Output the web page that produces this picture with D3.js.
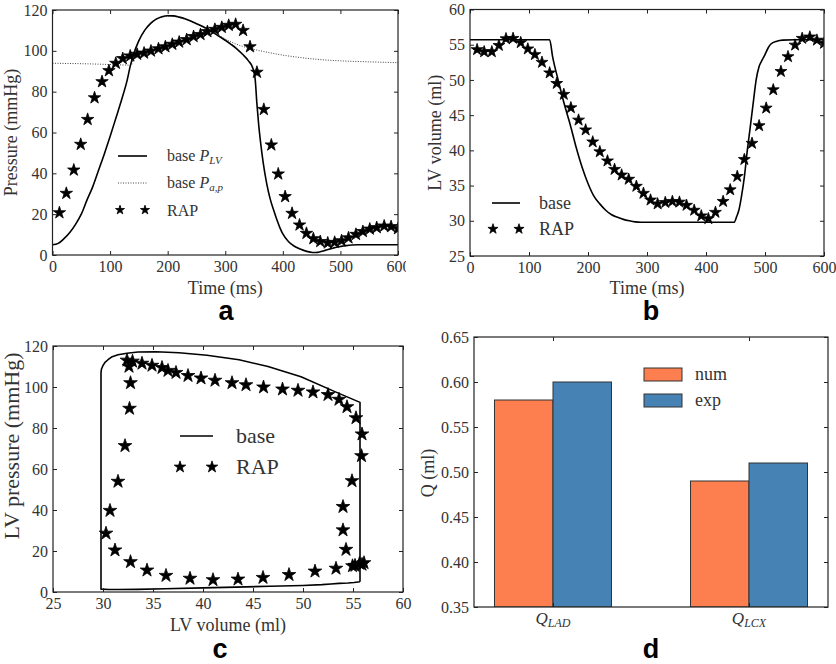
<!DOCTYPE html>
<html>
<head>
<meta charset="utf-8">
<script src="https://cdn.jsdelivr.net/npm/d3@7"></script>
<style>
  body { margin: 0; background: #fff; }
  svg { display: block; font-family: "Liberation Serif", serif; }
</style>
</head>
<body>
<svg width="836" height="664"></svg>
<script>
// base simulation, sampled on one time grid (ms)
const baseTime = [0,10,20,30,40,50,60,70,80,90,100,110,120,130,135,
  140,150,160,170,180,190,200,210,220,230,240,250,260,270,280,290,300,310,320,330,340,
  348,352,355,358,361,366,372,378,384,390,395,400,410,420,430,440,
  448,452,456,460,465,470,475,480,485,490,495,500,505,510,520,530,550,600];
const basePLV = [5,5.7,8,11,15,20,27,33.5,41.5,49.5,58,67,76,86,92.5,
  97.5,105,110,113.3,115.5,116.7,117.2,117.1,116.5,115.7,114.6,113.3,112,110.5,108.8,107,105.2,103.2,101,98.3,95.2,
  91.5,86,74,64,56,45,35,27.5,22,17,13.3,10.3,6.5,4.3,2.9,1.9,
  1.4,1.2,1.2,1.3,1.6,2.0,2.4,2.8,3.2,3.6,3.9,4.2,4.4,4.6,4.9,5,5,5];
const baseVolume = [55.7,55.7,55.7,55.7,55.7,55.7,55.7,55.7,55.7,55.7,55.7,55.7,55.7,55.7,55.7,
  53.3,49.8,46.5,43.6,40.4,37.6,35.3,33.5,32.4,31.5,30.85,30.5,30.2,30.0,29.85,29.8,29.8,29.8,29.8,29.8,29.8,
  29.8,29.8,29.8,29.8,29.8,29.8,29.8,29.8,29.8,29.8,29.8,29.8,29.8,29.8,29.8,29.8,
  29.8,30.6,31.6,33.4,36.2,40,43.3,46.7,50,51.9,52.8,53.6,54.5,55.1,55.5,55.65,55.7,55.7];

// base aortic pressure P_a,p
const papTime = [0,50,100,130,137,140,150,160,170,180,190,200,210,220,230,240,250,260,270,280,
  290,300,310,320,330,340,350,375,400,425,450,475,500,550,600];
const papValues = [93.9,93.7,93.3,93.0,92.9,97.3,104.8,109.8,113.1,115.3,116.5,117.0,116.9,116.3,115.5,
  114.4,113.1,111.8,110.4,108.9,107.3,105.8,104.4,103.2,102.2,101.4,100.7,99.2,97.9,96.9,96.1,95.5,95.1,94.6,94.2];

// RAP samples
const rapTime = [12,24,37,49,61,73,86,98,110,122,135,147,159,171,184,196,208,220,233,245,
  257,269,282,294,306,318,331,343,355,367,380,392,404,416,429,441,453,465,478,490,
  502,514,527,539,551,563,576,588,600];
const rapPressure = [20.7,30.2,41.6,54.2,66.4,77,84.9,90.3,93.9,96.2,97.5,98.3,98.9,99.9,101,102,103.2,104.3,105.5,107,
  108,109.4,110.5,111.5,112.5,113,110,102,89.5,71.3,53.9,39.7,28.6,20.4,14.7,10.6,8,6.6,5.9,6.2,
  7,8.4,10.1,11.5,12.7,13.4,14.2,13.9,12.9];
const rapVolume = [54.3,54.0,54.0,54.9,55.85,55.9,55.3,54.4,53.6,52.5,51.0,49.5,47.95,46.05,44.3,42.9,41.2,39.8,38.5,37.3,
  36.5,35.9,34.9,33.9,32.95,32.4,32.6,32.75,32.65,32.2,31.5,30.7,30.3,31.2,32.75,34.4,36.3,38.7,41.0,43.5,
  46.0,48.6,51.2,53.3,54.95,55.9,56.1,55.65,55.2];

// flow per branch
const flowBranches = ['LAD', 'LCX'];
const flowSeries = ['num', 'exp'];
const flowNum = [0.58, 0.49];
const flowExp = [0.60, 0.51];
const flowColors = ['#fd7f4f', '#4682b4'];

const svg = d3.select('svg');
const serif = '"Liberation Serif", serif';
const sans = '"Liberation Sans", sans-serif';

const panel = (o) => {
  const g = svg.append('g');
  const w = o.right - o.left, h = o.bottom - o.top;
  svg.append('clipPath').attr('id', 'clip-' + o.name)
    .append('rect').attr('x', o.left).attr('y', o.top).attr('width', w).attr('height', h);
  const plot = g.append('g').attr('clip-path', `url(#clip-${o.name})`);

  const bottom = g.append('g').attr('transform', `translate(0,${o.bottom})`)
    .call(d3.axisBottom(o.x).tickValues(o.xTicks).tickSizeInner(-4).tickSizeOuter(0)
      .tickPadding(6).tickFormat(o.xFormat || d3.format('d')));
  if (o.labelClip) {
    // clip is in the axis group's own (translated) coordinates
    svg.append('clipPath').attr('id', 'lclip-' + o.name)
      .append('rect').attr('x', 0).attr('y', -10).attr('width', o.labelClip).attr('height', 40);
    bottom.attr('clip-path', `url(#lclip-${o.name})`);
  }
  const top = g.append('g').attr('transform', `translate(0,${o.top})`)
    .call(d3.axisTop(o.x).tickValues(o.xTicks).tickSizeInner(-4).tickSizeOuter(0).tickFormat(''));
  const left = g.append('g').attr('transform', `translate(${o.left},0)`)
    .call(d3.axisLeft(o.y).tickValues(o.yTicks).tickSizeInner(-4).tickSizeOuter(0)
      .tickPadding(5).tickFormat(o.yFormat || d3.format('d')));
  const right = g.append('g').attr('transform', `translate(${o.right},0)`)
    .call(d3.axisRight(o.y).tickValues(o.yTicks).tickSizeInner(-4).tickSizeOuter(0).tickFormat(''));

  [bottom, top, left, right].forEach(a => {
    a.attr('font-family', serif).attr('font-size', 16);
    a.select('.domain').remove();
    a.selectAll('.tick line').attr('stroke', '#222');
    a.selectAll('.tick text').attr('fill', '#333');
  });

  g.append('rect').attr('x', o.left).attr('y', o.top).attr('width', w).attr('height', h)
    .attr('fill', 'none').attr('stroke', '#222').attr('stroke-width', 1.2);

  if (o.xTitle) {
    g.append('text').attr('x', (o.left + o.right) / 2).attr('y', o.xTitleY)
      .attr('text-anchor', 'middle').attr('font-size', 18).attr('fill', '#333').text(o.xTitle);
  }
  g.append('text')
    .attr('transform', `translate(${o.yTitleX},${o.yTitleY || (o.top + o.bottom) / 2}) rotate(-90)`)
    .attr('text-anchor', 'middle').attr('dy', '0.35em')
    .attr('font-size', o.yTitleSize || 18).attr('fill', '#333').text(o.yTitle);

  g.append('text').attr('x', o.letter[1]).attr('y', o.letter[2])
    .attr('text-anchor', 'middle').attr('font-family', sans).attr('font-weight', 'bold')
    .attr('font-size', 27).attr('fill', '#000').text(o.letter[0]);

  return { g, plot };
};

const starAt = (sel, data, size) => sel.selectAll(null).data(data).join('path')
  .attr('d', d3.symbol(d3.symbolStar, size))
  .attr('transform', d => `translate(${d[0]},${d[1]})`)
  .attr('fill', '#000').attr('stroke', '#000').attr('stroke-width', 0.8)
  .attr('stroke-linejoin', 'round');

// ---- a: pressure vs time ----
{
  const x = d3.scaleLinear().domain([0, 600]).range([52.5, 398]);
  const y = d3.scaleLinear().domain([0, 120]).range([255, 10]);
  const { g, plot } = panel({ name: 'a', left: 52.5, right: 398, top: 10, bottom: 255, x, y,
    xTicks: d3.range(0, 601, 100), yTicks: d3.range(0, 121, 20), labelClip: 406,
    xTitle: 'Time (ms)', xTitleY: 294, yTitle: 'Pressure (mmHg)', yTitleX: 11,
    letter: ['a', 226, 320] });

  plot.append('path')
    .attr('d', d3.line().x((d, i) => x(papTime[i])).y(d => y(d)).curve(d3.curveMonotoneX)(papValues))
    .attr('fill', 'none').attr('stroke', '#444').attr('stroke-width', 1).attr('stroke-dasharray', '1,1.5');
  plot.append('path')
    .attr('d', d3.line().x((d, i) => x(baseTime[i])).y(d => y(d)).curve(d3.curveMonotoneX)(basePLV))
    .attr('fill', 'none').attr('stroke', '#000').attr('stroke-width', 1.6);
  starAt(plot, d3.zip(rapTime, rapPressure).map(d => [x(d[0]), y(d[1])]), 48);

  // legend
  g.append('line').attr('x1', 118).attr('x2', 147).attr('y1', 156).attr('y2', 156)
    .attr('stroke', '#000').attr('stroke-width', 1.6);
  g.append('line').attr('x1', 118).attr('x2', 147).attr('y1', 183).attr('y2', 183)
    .attr('stroke', '#444').attr('stroke-dasharray', '1,1.5');
  starAt(g, [[120, 210], [145, 210]], 26);
  const legendText = (yy, main, sub) => {
    const t = g.append('text').attr('x', 167).attr('y', yy).attr('font-size', 16).attr('fill', '#333');
    t.append('tspan').text('base ');
    t.append('tspan').attr('font-style', 'italic').text(main);
    t.append('tspan').attr('font-style', 'italic').attr('font-size', 11).attr('dy', 3).text(sub);
  };
  legendText(161, 'P', 'LV');
  legendText(188, 'P', 'a,p');
  g.append('text').attr('x', 167).attr('y', 216).attr('font-size', 16).attr('fill', '#333').text('RAP');
}

// ---- b: volume vs time ----
{
  const x = d3.scaleLinear().domain([0, 600]).range([470, 824]);
  const y = d3.scaleLinear().domain([25, 60]).range([256, 9.5]);
  const { g, plot } = panel({ name: 'b', left: 470, right: 824, top: 9.5, bottom: 256, x, y,
    xTicks: d3.range(0, 601, 100), yTicks: d3.range(25, 61, 5),
    xTitle: 'Time (ms)', xTitleY: 294, yTitle: 'LV volume (ml)', yTitleX: 435,
    letter: ['b', 651, 320] });

  plot.append('path')
    .attr('d', d3.line().x((d, i) => x(baseTime[i])).y(d => y(d)).curve(d3.curveMonotoneX)(baseVolume))
    .attr('fill', 'none').attr('stroke', '#000').attr('stroke-width', 1.6);
  starAt(plot, d3.zip(rapTime, rapVolume).map(d => [x(d[0]), y(d[1])]), 44);

  g.append('line').attr('x1', 492).attr('x2', 520).attr('y1', 203).attr('y2', 203)
    .attr('stroke', '#000').attr('stroke-width', 1.6);
  starAt(g, [[493, 229], [519, 229]], 32);
  g.append('text').attr('x', 539).attr('y', 209).attr('font-size', 18).attr('fill', '#333').text('base');
  g.append('text').attr('x', 539).attr('y', 235).attr('font-size', 18).attr('fill', '#333').text('RAP');
}

// ---- c: pressure-volume loop ----
{
  const x = d3.scaleLinear().domain([25, 60]).range([53, 403]);
  const y = d3.scaleLinear().domain([0, 120]).range([592, 346]);
  const { g, plot } = panel({ name: 'c', left: 53, right: 403, top: 346, bottom: 592, x, y,
    xTicks: d3.range(25, 61, 5), yTicks: d3.range(0, 121, 20),
    xTitle: 'LV volume (ml)', xTitleY: 631, yTitle: 'LV pressure (mmHg)', yTitleX: 11,
    yTitleY: 446, yTitleSize: 22, letter: ['c', 220, 658] });

  plot.append('path')
    .attr('d', d3.line().x(d => x(d[0])).y(d => y(d[1])).curve(d3.curveLinear)(d3.zip(baseVolume, basePLV)))
    .attr('fill', 'none').attr('stroke', '#000').attr('stroke-width', 1.6).attr('stroke-linejoin', 'round');
  starAt(plot, d3.zip(rapVolume, rapPressure).map(d => [x(d[0]), y(d[1])]), 58);

  g.append('line').attr('x1', 180).attr('x2', 213).attr('y1', 436).attr('y2', 436)
    .attr('stroke', '#000').attr('stroke-width', 1.6);
  starAt(g, [[180, 467], [212, 467]], 42);
  g.append('text').attr('x', 236).attr('y', 443).attr('font-size', 22).attr('fill', '#333').text('base');
  g.append('text').attr('x', 236).attr('y', 474).attr('font-size', 22).attr('fill', '#333').text('RAP');
}

// ---- d: flow bars ----
{
  const x0 = d3.scalePoint().domain(flowBranches).range([474, 828]).padding(0.403);
  const x1 = d3.scaleBand().domain(flowSeries).range([-58.5, 58.5]);
  const y = d3.scaleLinear().domain([0.35, 0.65]).range([607, 337]);
  const { g, plot } = panel({ name: 'd', left: 474, right: 828, top: 337, bottom: 607, x: x0, y,
    xTicks: flowBranches, yTicks: d3.range(7, 14).map(k => k * 0.05),
    xFormat: () => '', yFormat: d3.format('.2f'),
    yTitle: 'Q (ml)', yTitleX: 428, yTitleY: 473, letter: ['d', 651, 658] });

  const rows = flowBranches.map((b, i) => ({ branch: b, values: [flowNum[i], flowExp[i]] }));
  plot.selectAll('g.grp').data(rows).join('g')
    .attr('transform', d => `translate(${x0(d.branch)},0)`)
    .selectAll('rect').data(d => d.values.map((v, j) => ({ key: flowSeries[j], v, j })))
    .join('rect')
    .attr('x', d => x1(d.key)).attr('width', x1.bandwidth())
    .attr('y', d => y(d.v)).attr('height', d => y(0.35) - y(d.v))
    .attr('fill', d => flowColors[d.j]).attr('stroke', '#333').attr('stroke-width', 1);

  flowBranches.forEach(b => {
    const t = g.append('text').attr('x', x0(b)).attr('y', 624).attr('text-anchor', 'middle')
      .attr('font-size', 17).attr('fill', '#333').attr('font-style', 'italic');
    t.append('tspan').text('Q');
    t.append('tspan').attr('font-size', 12).attr('dy', 3).text(b);
  });

  flowSeries.forEach((s, i) => {
    const yy = 368 + i * 26;
    g.append('rect').attr('x', 644).attr('y', yy).attr('width', 38).attr('height', 13)
      .attr('fill', flowColors[i]).attr('stroke', '#333');
    g.append('text').attr('x', 695).attr('y', yy + 12).attr('font-size', 18).attr('fill', '#333').text(s);
  });
}
</script>
</body>
</html>
